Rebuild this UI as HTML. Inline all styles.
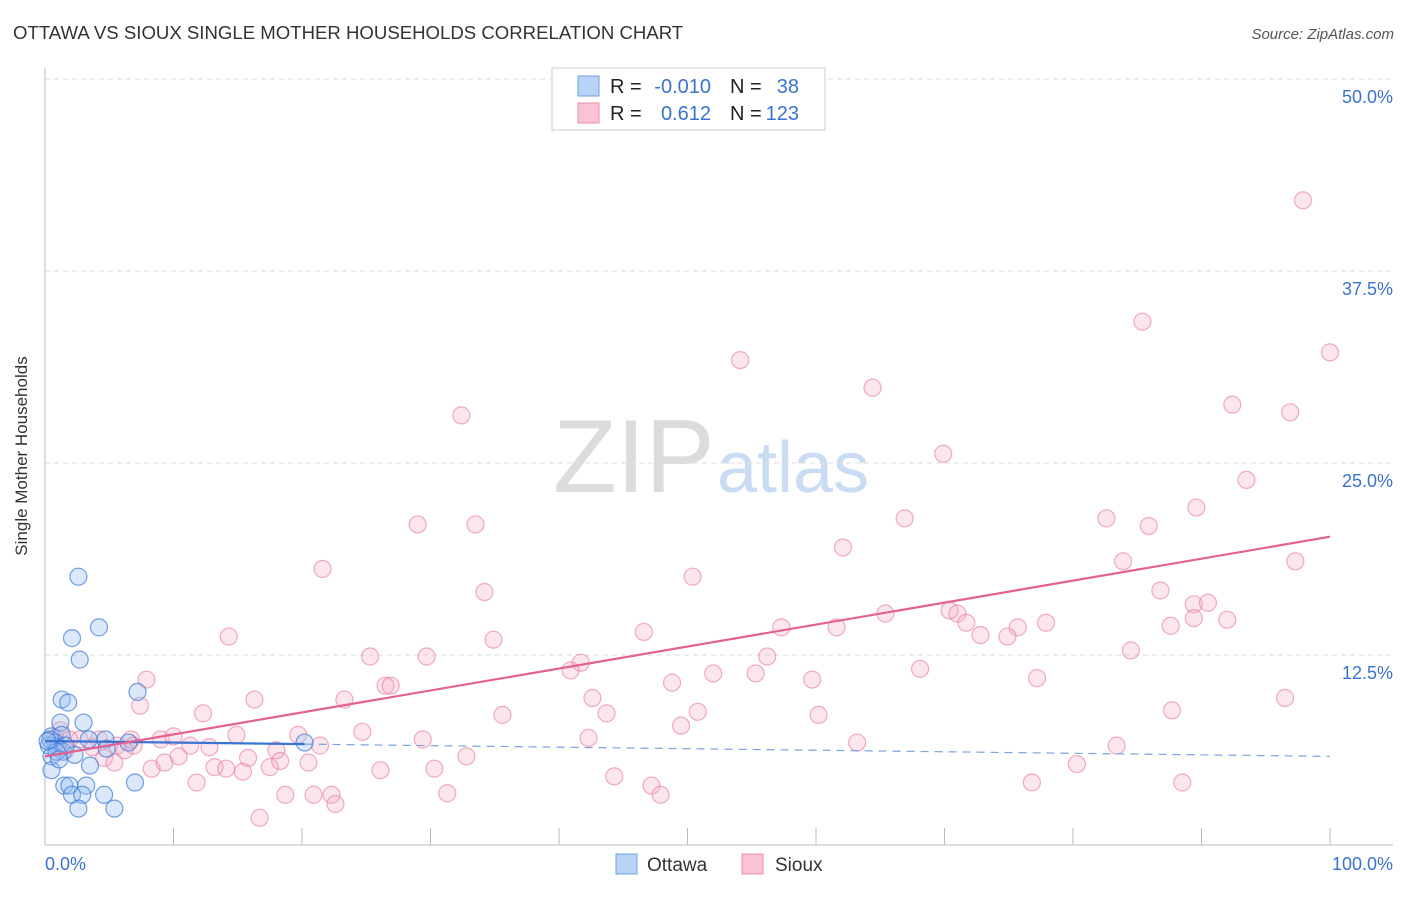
<!DOCTYPE html>
<html><head><meta charset="utf-8"><style>
body{margin:0;background:#fff;font-family:"Liberation Sans",sans-serif;}
svg text{font-family:"Liberation Sans",sans-serif;}
</style></head><body>
<svg width="1406" height="892" xmlns="http://www.w3.org/2000/svg" id="chart">
<text x="13" y="39" font-size="18.6" fill="#333">OTTAWA VS SIOUX SINGLE MOTHER HOUSEHOLDS CORRELATION CHART</text>
<text x="1394" y="39" font-size="15" fill="#555" font-style="italic" text-anchor="end">Source: ZipAtlas.com</text>
<g>
<text x="553" y="492" font-size="104" fill="#dcdcdc" font-family="Liberation Serif">ZIP</text>
<text x="717" y="492" font-size="72" fill="#c9dcf3">atlas</text>
</g>
<g id="grid"></g>
<g id="axes"></g>
<g id="pts"></g>
<g id="lines"></g>
<text x="27" y="456" font-size="17" fill="#333" text-anchor="middle" transform="rotate(-90 27 456)">Single Mother Households</text>
<g>
<rect x="552" y="68" width="273" height="62" fill="#fff" stroke="#ccc"/>
<rect x="578" y="76" width="21" height="20" fill="#b8d3f5" stroke="#6f9fe0"/>
<rect x="578" y="103" width="21" height="20" fill="#f9c3d3" stroke="#ec8fab"/>
<text x="610" y="93" font-size="20" fill="#222">R =</text>
<text x="711" y="93" font-size="20" fill="#3a73d0" text-anchor="end">-0.010</text>
<text x="730" y="93" font-size="20" fill="#222">N =</text>
<text x="799" y="93" font-size="20" fill="#3a73d0" text-anchor="end">38</text>
<text x="610" y="120" font-size="20" fill="#222">R =</text>
<text x="711" y="120" font-size="20" fill="#3a73d0" text-anchor="end">0.612</text>
<text x="730" y="120" font-size="20" fill="#222">N =</text>
<text x="799" y="120" font-size="20" fill="#3a73d0" text-anchor="end">123</text>
</g>
<g>
<rect x="616" y="854" width="21" height="20" fill="#b8d3f5" stroke="#6f9fe0"/>
<text x="647" y="871" font-size="19" fill="#333">Ottawa</text>
<rect x="742" y="854" width="21" height="20" fill="#f9c3d3" stroke="#ec8fab"/>
<text x="775" y="871" font-size="19" fill="#333">Sioux</text>
</g>
</svg>
<script>
const ottawaX=[2.6,4.2,2.1,2.7,7.2,1.3,1.8,1.2,3.0,4.7,0.5,1.3,0.8,0.3,1.0,1.4,2.3,0.5,3.5,0.5,1.5,1.9,3.2,2.1,2.9,4.6,2.6,5.4,7.0,20.2,6.5,4.8,0.4,1.6,0.9,0.2,1.1,3.4];
const ottawaY=[17.6,14.3,13.6,12.2,10.1,9.6,9.4,8.1,8.1,7.0,7.2,7.3,6.8,6.6,6.5,6.2,6.0,5.9,5.3,5.0,4.0,4.0,4.0,3.4,3.4,3.4,2.5,2.5,4.2,6.8,6.8,6.4,7.0,6.6,6.2,6.9,5.7,7.0];
const siouxX=[97.9,85.4,100,54.1,64.4,32.4,92.4,96.9,69.9,93.5,29.0,33.5,82.6,89.6,85.9,66.9,62.1,83.9,97.3,21.6,50.4,34.2,86.8,89.4,90.5,70.4,71.0,65.4,92.0,87.6,89.4,71.7,77.9,75.7,57.3,61.6,46.6,14.3,34.9,72.8,74.9,84.5,25.3,29.7,56.2,41.7,40.9,68.1,52.0,55.3,59.7,48.8,77.2,7.9,26.5,26.9,16.3,23.3,42.6,7.4,96.5,12.3,35.6,43.7,50.8,60.2,87.7,49.5,24.7,14.9,29.4,42.3,63.2,83.4,6.7,9.0,10.0,11.3,12.8,19.7,21.4,1.2,2.7,4.2,5.6,32.8,4.6,5.4,8.3,9.3,10.4,13.2,14.1,15.4,17.5,18.0,18.3,20.5,26.1,30.3,44.3,47.2,47.9,80.3,11.8,76.8,88.5,18.7,20.9,22.3,22.6,31.3,16.7,6.2,3.7,1.9,0.8,1.6,6.9,15.8];
const siouxY=[42.1,34.2,32.2,31.7,29.9,28.1,28.8,28.3,25.6,23.9,21.0,21.0,21.4,22.1,20.9,21.4,19.5,18.6,18.6,18.1,17.6,16.6,16.7,15.8,15.9,15.4,15.2,15.2,14.8,14.4,14.9,14.6,14.6,14.3,14.3,14.3,14.0,13.7,13.5,13.8,13.7,12.8,12.4,12.4,12.4,12.0,11.5,11.6,11.3,11.3,10.9,10.7,11.0,10.9,10.5,10.5,9.6,9.6,9.7,9.2,9.7,8.7,8.6,8.7,8.8,8.6,8.9,7.9,7.5,7.3,7.0,7.1,6.8,6.6,7.0,7.0,7.2,6.6,6.5,7.3,6.6,7.6,7.0,7.0,6.6,5.9,5.8,5.5,5.1,5.5,5.9,5.2,5.1,4.9,5.2,6.3,5.6,5.5,5.0,5.1,4.6,4.0,3.4,5.4,4.2,4.2,4.2,3.4,3.4,3.4,2.8,3.5,1.9,6.3,6.5,7.0,7.1,6.3,6.6,5.8];
const ottawaTrend=[6.9,5.9];
const siouxTrend=[5.9,20.2];
const yTicks=[12.5,25,37.5,50];
const yTickLabels=["12.5%","25.0%","37.5%","50.0%"];
const xTicks=[0,10,20,30,40,50,60,70,80,90,100];
const NS="http://www.w3.org/2000/svg";
const X0=45,X1=1330,Y0=847,PY=192/12.5;
function sx(v){return X0+(X1-X0)*v/100;}
function sy(v){return Y0-v*PY;}
function mk(tag,attrs,parent){const e=document.createElementNS(NS,tag);for(const k in attrs)e.setAttribute(k,attrs[k]);parent.appendChild(e);return e;}
const grid=document.getElementById('grid'),axes=document.getElementById('axes'),pts=document.getElementById('pts'),lines=document.getElementById('lines');
yTicks.forEach((t,i)=>{
 const l=mk('line',{x1:45,x2:1393,y1:sy(t),y2:sy(t),stroke:'#ddd','stroke-dasharray':'5,4'},grid);
 
 
 const tx=mk('text',{x:1393,y:sy(t)+24,'font-size':18,fill:'#3a73d0','text-anchor':'end'},axes);
 tx.textContent=yTickLabels[i];
 
 
});
const ax=mk('line',{x1:45,x2:45,y1:68,y2:845,stroke:'#bbb'},axes);


const bx=mk('line',{x1:45,x2:1393,y1:845,y2:845,stroke:'#bbb'},axes);


xTicks.forEach(t=>{
 const l=mk('line',{x1:sx(t),x2:sx(t),y1:828,y2:845,stroke:'#bbb'},axes);
 
 
});
const xl=mk('text',{x:45,y:870,'font-size':18,fill:'#3a73d0'},axes);xl.textContent='0.0%';


const xr=mk('text',{x:1393,y:870,'font-size':18,fill:'#3a73d0','text-anchor':'end'},axes);xr.textContent='100.0%';


siouxX.forEach((x,i)=>{
 const c=mk('circle',{cx:sx(x),cy:sy(siouxY[i]),r:8.5,fill:'rgba(245,165,190,0.28)',stroke:'rgba(230,120,155,0.6)','stroke-width':1.2},pts);
 
 
});
ottawaX.forEach((x,i)=>{
 const c=mk('circle',{cx:sx(x),cy:sy(ottawaY[i]),r:8.5,fill:'rgba(150,190,240,0.35)',stroke:'rgba(60,120,215,0.7)','stroke-width':1.2},pts);
 
 
});
const oy=x=>ottawaTrend[0]+(ottawaTrend[1]-ottawaTrend[0])*x/100;
const l1=mk('line',{x1:sx(0),y1:sy(oy(0)),x2:sx(20.2),y2:sy(oy(20.2)),stroke:'#3a73d0','stroke-width':2.2},lines);


const l2=mk('line',{x1:sx(20.2),y1:sy(oy(20.2)),x2:sx(100),y2:sy(oy(100)),stroke:'#7aa3e0','stroke-width':1.2,'stroke-dasharray':'8,6'},lines);


const l3=mk('line',{x1:sx(0),y1:sy(siouxTrend[0]),x2:sx(100),y2:sy(siouxTrend[1]),stroke:'#e4608f','stroke-width':2.2},lines);


</script>
</body></html>
